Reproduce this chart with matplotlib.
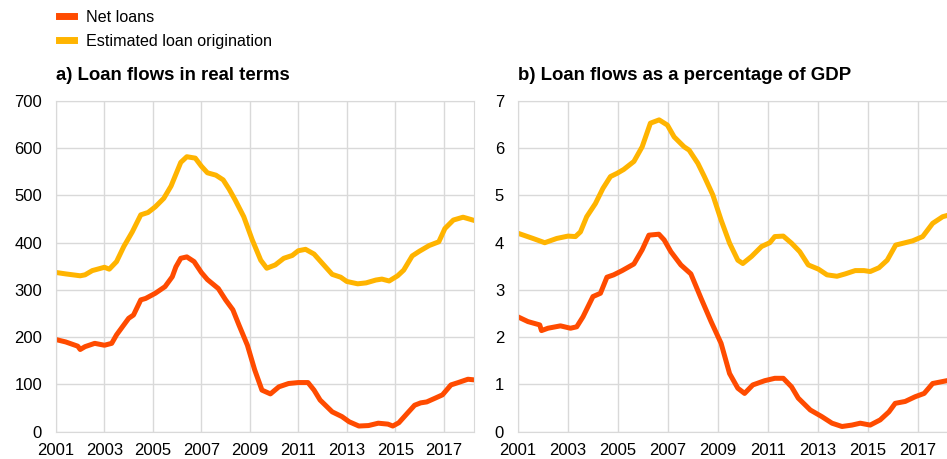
import matplotlib.pyplot as plt
from matplotlib.lines import Line2D

plt.rcParams["font.family"] = ["Liberation Sans", "DejaVu Sans"]

# datos (anios en decimal)
anios_net_real = [2001.0, 2001.4, 2001.9, 2002.0, 2002.2, 2002.6, 2003.0, 2003.3, 2003.5, 2004.0,
                  2004.2, 2004.5, 2004.7, 2005.1, 2005.5, 2005.8, 2005.95, 2006.15, 2006.4, 2006.7,
                  2007.0, 2007.25, 2007.7, 2008.0, 2008.3, 2008.55, 2008.9, 2009.2, 2009.5, 2009.85,
                  2010.2, 2010.6, 2011.0, 2011.4, 2011.65, 2011.9, 2012.4, 2012.8, 2013.1, 2013.5,
                  2013.9, 2014.3, 2014.7, 2014.9, 2015.15, 2015.5, 2015.8, 2016.05, 2016.3, 2016.65,
                  2016.95, 2017.3, 2017.6, 2018.0, 2018.2]
net_real = [195, 190, 181, 174, 180, 187, 183, 187, 205, 240,
            247, 279, 282, 293, 307, 328, 349, 367, 370, 360,
            337, 322, 303, 279, 258, 226, 183, 131, 88, 80,
            95, 102, 104, 104, 88, 67, 42, 32, 21, 12,
            13, 18, 16, 12, 19, 39, 56, 61, 63, 71,
            78, 99, 104, 111, 110]

anios_orig_real = [2001.0, 2001.4, 2002.0, 2002.2, 2002.5, 2003.0, 2003.2, 2003.5, 2003.8, 2004.15,
                   2004.5, 2004.8, 2005.1, 2005.45, 2005.75, 2006.15, 2006.4, 2006.75, 2007.0, 2007.25,
                   2007.6, 2007.9, 2008.15, 2008.4, 2008.75, 2009.1, 2009.45, 2009.7, 2010.05, 2010.4,
                   2010.75, 2011.0, 2011.3, 2011.65, 2012.05, 2012.4, 2012.75, 2013.0, 2013.45, 2013.8,
                   2014.2, 2014.45, 2014.75, 2015.1, 2015.35, 2015.7, 2016.0, 2016.4, 2016.8, 2017.05,
                   2017.4, 2017.8, 2018.2]
orig_real = [337, 334, 330, 332, 341, 348, 344, 360, 392, 423,
             459, 464, 476, 494, 520, 570, 582, 579, 562, 548,
             543, 533, 513, 490, 455, 406, 363, 346, 353, 367,
             373, 383, 386, 376, 353, 333, 327, 318, 313, 315,
             321, 323, 319, 330, 342, 372, 382, 394, 402, 430,
             448, 454, 448]

anios_net_pib = [2001.0, 2001.4, 2001.87, 2001.94, 2002.2, 2002.7, 2003.1, 2003.35, 2003.6, 2004.0,
                 2004.3, 2004.56, 2004.83, 2005.17, 2005.64, 2005.97, 2006.24, 2006.64, 2006.85, 2007.12,
                 2007.52, 2007.92, 2008.33, 2008.73, 2009.13, 2009.47, 2009.8, 2010.07, 2010.4, 2010.88,
                 2011.28, 2011.62, 2011.95, 2012.22, 2012.7, 2013.16, 2013.57, 2013.97, 2014.37, 2014.7,
                 2015.1, 2015.5, 2015.85, 2016.1, 2016.5, 2016.9, 2017.26, 2017.6, 2018.27]
net_pib = [2.43, 2.33, 2.26, 2.14, 2.19, 2.24, 2.19, 2.22, 2.43, 2.86,
           2.93, 3.27, 3.32, 3.41, 3.55, 3.85, 4.16, 4.18, 4.06, 3.81,
           3.53, 3.34, 2.82, 2.33, 1.87, 1.23, 0.92, 0.81, 0.99, 1.08,
           1.13, 1.13, 0.95, 0.71, 0.46, 0.32, 0.18, 0.11, 0.14, 0.18,
           0.14, 0.25, 0.42, 0.60, 0.64, 0.74, 0.81, 1.02, 1.09]

anios_orig_pib = [2001.0, 2001.6, 2002.07, 2002.55, 2003.0, 2003.3, 2003.5, 2003.75, 2004.1, 2004.4,
                  2004.7, 2004.97, 2005.23, 2005.64, 2005.97, 2006.3, 2006.65, 2006.98, 2007.25, 2007.65,
                  2007.85, 2008.2, 2008.46, 2008.8, 2009.13, 2009.47, 2009.8, 2010.0, 2010.35, 2010.75,
                  2011.08, 2011.28, 2011.62, 2011.95, 2012.28, 2012.62, 2013.03, 2013.37, 2013.77, 2014.1,
                  2014.5, 2014.85, 2015.1, 2015.45, 2015.78, 2016.12, 2016.5, 2016.8, 2017.2, 2017.6,
                  2018.0, 2018.27]
orig_pib = [4.20, 4.09, 4.00, 4.09, 4.14, 4.13, 4.23, 4.55, 4.83, 5.15,
            5.40, 5.47, 5.55, 5.72, 6.03, 6.53, 6.60, 6.49, 6.24, 6.03,
            5.96, 5.68, 5.40, 5.01, 4.48, 3.99, 3.63, 3.56, 3.71, 3.92,
            4.00, 4.13, 4.14, 3.99, 3.81, 3.53, 3.44, 3.32, 3.29, 3.34,
            3.41, 3.41, 3.39, 3.47, 3.63, 3.95, 4.00, 4.04, 4.13, 4.41,
            4.55, 4.59]

anios_ticks = [2001, 2003, 2005, 2007, 2009, 2011, 2013, 2015, 2017]
color_net = "#FF4B00"
color_orig = "#FFB400"
gris = "#d9d9d9"


def preparar_eje(ax, ymax, paso):
    ax.set_xlim(2001, 2018.25)
    ax.set_ylim(0, ymax)
    ax.set_xticks(anios_ticks)
    ax.set_xticklabels([str(a) for a in anios_ticks])
    ax.set_yticks(range(0, ymax + 1, paso))
    ax.grid(True, color=gris, linewidth=1)
    ax.set_axisbelow(True)
    for lado in ["top", "right", "left", "bottom"]:
        ax.spines[lado].set_color(gris)
    ax.tick_params(length=0, labelsize=12, colors="#000000")
    ax.tick_params(axis="x", pad=8)
    ax.tick_params(axis="y", pad=10)


fig = plt.figure(figsize=(9.47, 4.59), dpi=100)

ax1 = fig.add_axes([0.0591, 0.0595, 0.4414, 0.7205])
ax1.plot(anios_orig_real, orig_real, color=color_orig, linewidth=3.6, solid_joinstyle="round")
ax1.plot(anios_net_real, net_real, color=color_net, linewidth=3.6, solid_joinstyle="round")
preparar_eje(ax1, 700, 100)

ax2 = fig.add_axes([0.547, 0.0595, 0.455, 0.7205])
ax2.plot(anios_orig_pib, orig_pib, color=color_orig, linewidth=3.6, solid_joinstyle="round")
ax2.plot(anios_net_pib, net_pib, color=color_net, linewidth=3.6, solid_joinstyle="round")
preparar_eje(ax2, 7, 1)

fig.text(0.059, 0.835, "a) Loan flows in real terms", fontsize=13.4, fontweight="bold", va="center")
fig.text(0.547, 0.835, "b) Loan flows as a percentage of GDP", fontsize=13.4, fontweight="bold", va="center")

manejadores = [Line2D([], [], color=color_net, linewidth=5),
               Line2D([], [], color=color_orig, linewidth=5)]
fig.legend(manejadores, ["Net loans", "Estimated loan origination"],
           loc="upper left", bbox_to_anchor=(0.047, 1.01), frameon=False,
           fontsize=11.6, handlelength=0.9, handletextpad=0.8, labelspacing=0.55)

fig.savefig("out.png", dpi=100)
